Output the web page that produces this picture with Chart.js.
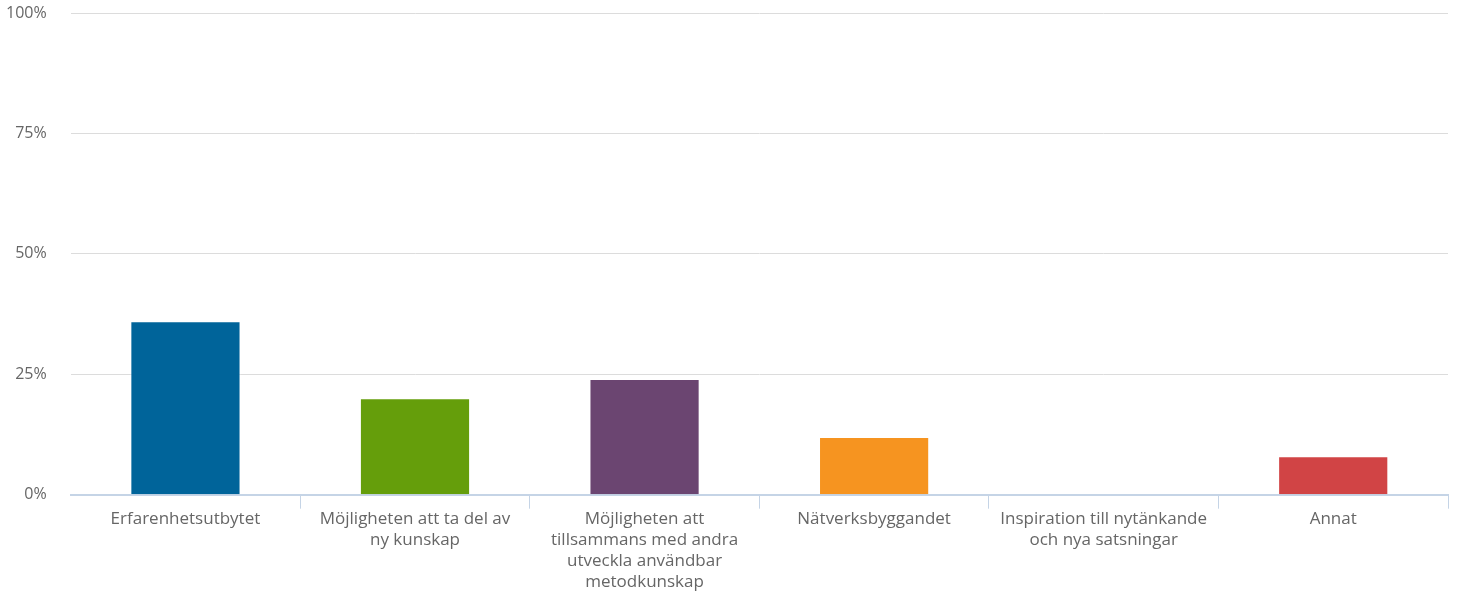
<!DOCTYPE html>
<html>
<head>
<meta charset="utf-8">
<script src="https://cdn.jsdelivr.net/npm/chart.js@4/dist/chart.umd.min.js"></script>
<style>
  html, body { margin: 0; padding: 0; background: #fff; }
  #wrap { width: 1458px; height: 593px; }
</style>
</head>
<body>
<div id="wrap"><canvas id="chart"></canvas></div>
<script>
const categories = [
  'Erfarenhetsutbytet',
  ['Möjligheten att ta del av', 'ny kunskap'],
  ['Möjligheten att', 'tillsammans med andra', 'utveckla användbar', 'metodkunskap'],
  'Nätverksbyggandet',
  ['Inspiration till nytänkande', 'och nya satsningar'],
  'Annat'
];
const values = [36, 20, 24, 12, 0, 8];
const barColors = ['#00649a', '#659e0b', '#6b4571', '#f69420', '#d14445', '#d14445'];
const yTicks = [0, 25, 50, 75, 100];

Chart.defaults.font.family = '"Open Sans", sans-serif';
Chart.defaults.font.size = 16;
Chart.defaults.color = '#666';

new Chart(document.getElementById('chart'), {
  type: 'bar',
  data: {
    labels: categories,
    datasets: [{
      data: values,
      backgroundColor: barColors,
      borderColor: 'rgba(255,255,255,0.6)',
      borderWidth: 1,
      categoryPercentage: 1,
      barPercentage: 0.48
    }]
  },
  options: {
    responsive: true, maintainAspectRatio: false, animation: false,
    layout: { padding: { top: 0, right: 10, left: -18, bottom: 0 } },
    plugins: { legend: { display: false }, tooltip: { enabled: false } },
    scales: {
      x: {
        offset: true,
        grid: {
          offset: true, drawOnChartArea: false, drawTicks: true, tickLength: 14,
          color: ctx => ctx.index === 0 ? 'rgba(0,0,0,0)' : '#c5d4e6'
        },
        border: { display: true, color: '#c5d4e6', width: 2 },
        ticks: { padding: 0, maxRotation: 0, autoSkip: false, font: { size: 17, lineHeight: 1.24 } }
      },
      y: {
        min: 0, max: 100,
        afterBuildTicks: axis => { axis.ticks = yTicks.map(v => ({ value: v })); },
        // tick padding would otherwise also pad the top of the plot
        afterFit: axis => { axis.paddingTop = 13; axis.paddingBottom = 10; },
        grid: { color: '#dcdcdc', drawTicks: false },
        border: { display: false },
        ticks: { padding: 24, callback: v => v + '%', font: { size: 16 } }
      }
    }
  }
});
</script>
</body>
</html>
